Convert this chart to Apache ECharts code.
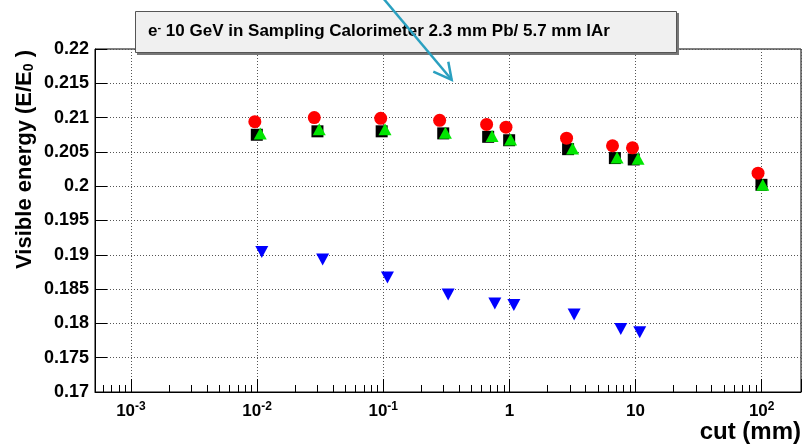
<!DOCTYPE html>
<html><head><meta charset="utf-8">
<script src="https://cdn.jsdelivr.net/npm/echarts@6/dist/echarts.min.js"></script>
<style>html,body{margin:0;padding:0;background:#fff}#c{width:804px;height:445px}</style>
</head><body><div id="c"></div>
<script>
// ---- data ----
const cutCircle = [0.0096, 0.0284, 0.0955, 0.28, 0.66, 0.94, 2.84, 6.57, 9.46, 93.6];
const eCircle   = [0.2094, 0.2100, 0.2099, 0.2096, 0.2090, 0.2086, 0.2070, 0.2059, 0.2056, 0.2019];
const cutSquare = [0.00995, 0.0301, 0.0972, 0.299, 0.679, 0.996, 2.92, 6.86, 9.68, 99.6];
const eSquare   = [0.2075, 0.2080, 0.2080, 0.2077, 0.2072, 0.2067, 0.2054, 0.2041, 0.2039, 0.2002];
const cutTri    = [0.0106, 0.0311, 0.1033, 0.311, 0.729, 1.022, 3.17, 7.14, 10.47, 102];
const eTri      = [0.2077, 0.2083, 0.2083, 0.2078, 0.2073, 0.2068, 0.2055, 0.2042, 0.2040, 0.2002];
const cutInv    = [0.0109, 0.0331, 0.108, 0.327, 0.767, 1.085, 3.26, 7.64, 10.8];
const eInv      = [0.1904, 0.1893, 0.1867, 0.1842, 0.1829, 0.1827, 0.1813, 0.1792, 0.1787];
const minorTickCuts = [6e-4,7e-4,8e-4,9e-4, 2e-3,3e-3,4e-3,5e-3,6e-3,7e-3,8e-3,9e-3,
  0.02,0.03,0.04,0.05,0.06,0.07,0.08,0.09, 0.2,0.3,0.4,0.5,0.6,0.7,0.8,0.9,
  2,3,4,5,6,7,8,9, 20,30,40,50,60,70,80,90];
const titleText = 'e{sup|-} 10 GeV in Sampling Calorimeter 2.3 mm Pb/ 5.7 mm lAr';
const yTitle = 'Visible energy (E/E{sub|0} )';
const xTitle = 'cut (mm)';

const FONT = '"Liberation Sans", Arial, Helvetica, sans-serif';
const chart = echarts.init(document.getElementById('c'), null, {renderer: 'canvas'});
function isPow10(v) { const l = Math.log10(v); return Math.abs(l - Math.round(l)) < 1e-6; }
const pairs = (xs, ys) => xs.map((x, i) => [x, ys[i]]);

chart.setOption({
  animation: false,
  grid: {left: 95, right: 3, top: 49, bottom: 53, show: true, borderColor: '#000', borderWidth: 1},
  xAxis: {
    type: 'log', logBase: 10, min: 5.19e-4, max: 205,
    axisLine: {show: true, lineStyle: {color: '#000', width: 1}},
    axisTick: {show: true, inside: true, length: 13, lineStyle: {color: '#000'}},
    minorTick: {show: false},
    splitLine: {show: true, lineStyle: {color: '#555', type: [1, 2], width: 1}},
    axisLabel: {
      margin: 9, fontFamily: FONT, fontWeight: 'bold', fontSize: 17, color: '#000', lineHeight: 20,
      showMinLabel: true, showMaxLabel: true,
      formatter: v => {
        if (!isPow10(v)) return '';
        const e = Math.round(Math.log10(v));
        if (e === 0) return '1';
        if (e === 1) return '10';
        return '10{sup|' + e + '}';
      },
      rich: {sup: {fontFamily: FONT, fontWeight: 'bold', fontSize: 12, color: '#000', verticalAlign: 'top', lineHeight: 8}}
    }
  },
  yAxis: {
    type: 'value', min: 0.17, max: 0.22, interval: 0.005,
    axisLine: {show: true, lineStyle: {color: '#000', width: 1}},
    axisTick: {show: true, inside: true, length: 12, lineStyle: {color: '#000'}},
    splitLine: {show: true, lineStyle: {color: '#555', type: [1, 2], width: 1}},
    axisLabel: {margin: 6, fontFamily: FONT, fontWeight: 'bold', fontSize: 18, color: '#000',
      formatter: v => String(parseFloat(v.toFixed(3)))}
  },
  series: [
    {type: 'custom', silent: true, z: 1, data: minorTickCuts.map(v => [v, 0.17]),
      renderItem: (params, api) => {
        const p = api.coord([api.value(0), api.value(1)]);
        const x = Math.round(p[0]) + 0.5;
        return {type: 'line', shape: {x1: x, y1: p[1], x2: x, y2: p[1] - 7}, style: {stroke: '#000', lineWidth: 1}};
      }},
    {type: 'scatter', z: 3, data: pairs(cutSquare, eSquare), symbol: 'rect', symbolSize: 12, itemStyle: {color: '#000', opacity: 1}},
    {type: 'scatter', z: 4, data: pairs(cutTri, eTri), symbol: 'triangle', symbolSize: [13, 12], itemStyle: {color: '#00e600', opacity: 1}},
    {type: 'scatter', z: 5, data: pairs(cutCircle, eCircle), symbol: 'circle', symbolSize: 13, itemStyle: {color: '#ff0000', opacity: 1}},
    {type: 'scatter', z: 5, data: pairs(cutInv, eInv), symbol: 'triangle', symbolRotate: 180, symbolSize: [13, 12], itemStyle: {color: '#0000ff', opacity: 1}}
  ],
  graphic: [
    {type: 'rect', z: 100, shape: {x: 137, y: 13, width: 542, height: 42}, style: {fill: '#777'}},
    {type: 'rect', z: 101, shape: {x: 135.5, y: 11.5, width: 541, height: 41}, style: {fill: '#f0f0f0', stroke: '#555', lineWidth: 1}},
    {type: 'text', z: 102, x: 148, y: 31, style: {text: titleText, font: 'bold 17px ' + FONT, fill: '#000', verticalAlign: 'middle',
      rich: {sup: {font: 'bold 11px ' + FONT, fill: '#000', verticalAlign: 'top', lineHeight: 4}}}},
    {type: 'polyline', z: 103, shape: {points: [[383, -2], [451.5, 79.5]]}, style: {stroke: '#2aa0c0', lineWidth: 2.5, fill: null}},
    {type: 'polyline', z: 103, shape: {points: [[433.3, 71.7], [451.7, 80], [448.3, 61.7]]}, style: {stroke: '#2aa0c0', lineWidth: 2.5, fill: null, lineJoin: 'miter'}},
    {type: 'text', z: 102, x: 25, y: 50, rotation: Math.PI / 2, style: {text: yTitle, font: 'bold 22px ' + FONT, fill: '#000', align: 'right', verticalAlign: 'middle',
      rich: {sub: {font: 'bold 14px ' + FONT, fill: '#000', verticalAlign: 'bottom', lineHeight: 8}}}},
    {type: 'text', z: 102, x: 801, y: 432, style: {text: xTitle, font: 'bold 24px ' + FONT, fill: '#000', align: 'right', verticalAlign: 'middle'}}
  ]
});
</script>
</body></html>
